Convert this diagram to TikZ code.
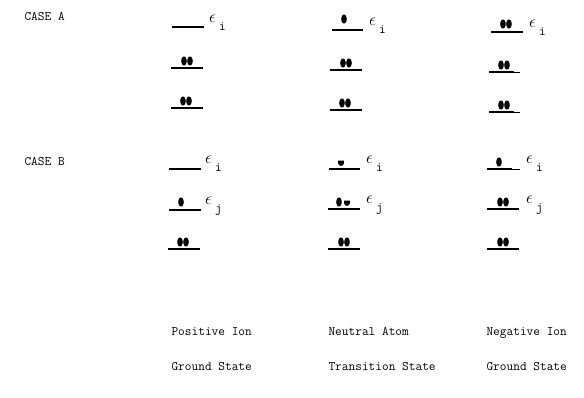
\documentclass[tikz,border=0pt]{standalone}
\usepackage{tikz}

\tikzset{
    lvl/.style={line width=1.2pt},
    el/.style={fill=black},
    lbl/.style={anchor=base west, font=\fontsize{13}{15}\ttfamily},
    eps/.style={anchor=base west, inner sep=0pt, font=\fontsize{17}{19}\selectfont}
}
\newcommand{\eni}{$\epsilon$\hspace{3pt}\raisebox{-8pt}{\fontsize{13}{15}\ttfamily i}}
\newcommand{\enj}{$\epsilon$\hspace{3pt}\raisebox{-8pt}{\fontsize{13}{15}\ttfamily j}}

\begin{document}
\begin{tikzpicture}[x=1pt, y=-1pt]
    \useasboundingbox (0,0) rectangle (584,397);

    \node[lbl] (casea) at (21,20) {CASE A};
    \node[lbl] (caseb) at (21,165) {CASE B};

    % case A
    \draw[lvl] (172,27) -- (204,27);
    \node[eps] (ea1) at (209,22) {\eni};
    \draw[lvl] (171,68) -- (203,68);
    \draw[el] (184,61) ellipse (2.6 and 4.3);
    \draw[el] (190,61) ellipse (2.6 and 4.3);
    \draw[lvl] (171,108) -- (203,108);
    \draw[el] (183,101) ellipse (2.6 and 4.3);
    \draw[el] (189,101) ellipse (2.6 and 4.3);

    \draw[lvl] (332,30) -- (363,30);
    \draw[el] (344,19) ellipse (2.6 and 4.3);
    \node[eps] (ea2) at (369,25) {\eni};
    \draw[lvl] (330,70) -- (362,70);
    \draw[el] (343,63) ellipse (2.6 and 4.3);
    \draw[el] (349,63) ellipse (2.6 and 4.3);
    \draw[lvl] (330,110) -- (362,110);
    \draw[el] (342,103) ellipse (2.6 and 4.3);
    \draw[el] (348,103) ellipse (2.6 and 4.3);

    \draw[lvl] (491,32) -- (523,32);
    \draw[el] (503,24) ellipse (2.6 and 4.3);
    \draw[el] (509,24) ellipse (2.6 and 4.3);
    \node[eps] (ea3) at (529,27) {\eni};
    \draw[lvl] (489,72) -- (514,72);
    \draw[lvl, line width=0.5pt] (514,72) -- (520,72);
    \draw[el] (501,65) ellipse (2.6 and 4.3);
    \draw[el] (507,65) ellipse (2.6 and 4.3);
    \draw[lvl] (489,112) -- (514,112);
    \draw[lvl, line width=0.5pt] (514,112) -- (520,112);
    \draw[el] (501,105) ellipse (2.6 and 4.3);
    \draw[el] (507,105) ellipse (2.6 and 4.3);

    % case B
    \draw[lvl] (169,169) -- (201,169);
    \node[eps] (eb1) at (205,163) {\eni};
    \draw[lvl] (169,210) -- (201,210);
    \draw[el] (181,202) ellipse (2.6 and 4.3);
    \node[eps] (eb2) at (205,204) {\enj};
    \draw[lvl] (168,249) -- (200,249);
    \draw[el] (180,242) ellipse (2.6 and 4.3);
    \draw[el] (186,242) ellipse (2.6 and 4.3);

    \draw[lvl] (329,169) -- (360,169);
    \fill (338,160.5) .. controls (337.5,168) and (344.5,168) .. (344,160.5) -- cycle;
    \node[eps] (eb3) at (366,163) {\eni};
    \draw[lvl] (328,209) -- (360,209);
    \draw[el] (339,202) ellipse (2.6 and 4.3);
    \fill (344,200.5) .. controls (343.5,208) and (350.5,208) .. (350,200.5) -- cycle;
    \node[eps] (eb4) at (366,203) {\enj};
    \draw[lvl] (328,249) -- (360,249);
    \draw[el] (341,242) ellipse (2.6 and 4.3);
    \draw[el] (347,242) ellipse (2.6 and 4.3);

    \draw[lvl] (487,169) -- (512,169);
    \draw[lvl, line width=0.5pt] (512,169) -- (520,169);
    \draw[el] (499,162) ellipse (2.6 and 4.3);
    \node[eps] (eb5) at (526,163) {\eni};
    \draw[lvl] (487,209) -- (519,209);
    \draw[el] (500,202) ellipse (2.6 and 4.3);
    \draw[el] (506,202) ellipse (2.6 and 4.3);
    \node[eps] (eb6) at (526,203) {\enj};
    \draw[lvl] (487,249) -- (519,249);
    \draw[el] (500,242) ellipse (2.6 and 4.3);
    \draw[el] (506,242) ellipse (2.6 and 4.3);

    % states
    \node[lbl] (pos) at (168,335) {Positive Ion};
    \node[lbl] (posg) at (168,370) {Ground State};
    \node[lbl] (neu) at (325,335) {Neutral Atom};
    \node[lbl] (neut) at (325,370) {Transition State};
    \node[lbl] (neg) at (483,335) {Negative Ion};
    \node[lbl] (negg) at (483,370) {Ground State};
\end{tikzpicture}
\end{document}
